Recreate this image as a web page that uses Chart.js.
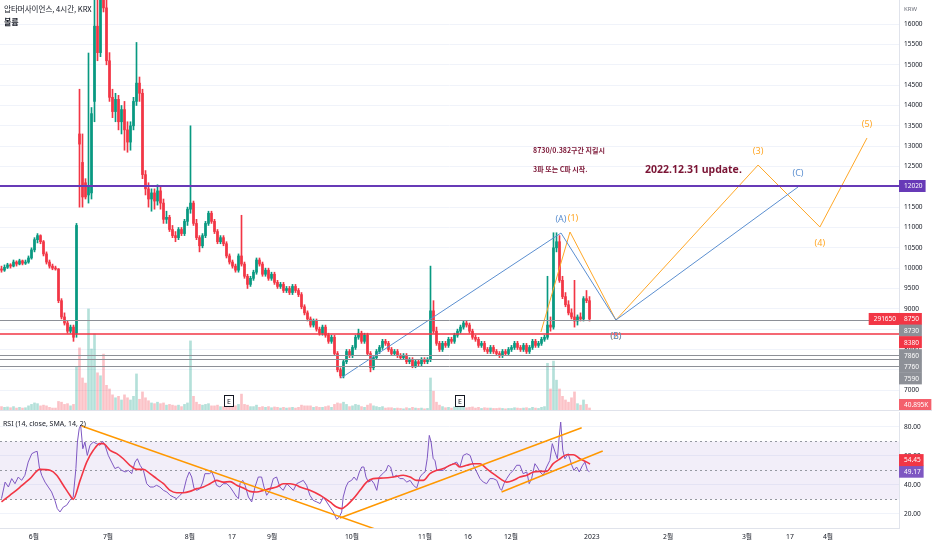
<!DOCTYPE html>
<html>
<head>
<meta charset="utf-8">
<script src="https://cdn.jsdelivr.net/npm/chart.js@4.4.1/dist/chart.umd.min.js"></script>
<style>
  body { margin: 0; background: #fff; width: 932px; height: 550px; overflow: hidden; position: relative; }
  #main { position: absolute; left: 0; top: 0; width: 932px; height: 411px; }
  #rsi { position: absolute; left: 0; top: 411px; width: 932px; height: 139px; }
</style>
</head>
<body>
<div id="main"><canvas id="c1"></canvas></div>
<div id="rsi"><canvas id="c2"></canvas></div>
<script>
// 4시간봉 (bar index 0 = 5월 말)
const open = [9980,9950,10020,10080,10050,10150,10100,10180,10120,10150,
  10250,10450,10700,10800,10650,10350,10150,10050,10000,9980,
  9200,8800,8650,8450,8550,8400,13300,12600,12100,11800,
  11850,14100,15950,15300,17300,16400,15100,14200,13850,14150,
  13600,13900,13400,13100,13500,14100,14550,14300,12300,11950,
  11700,11850,11650,11900,11600,11200,11250,10950,10800,10750,
  10950,10850,11150,11450,11600,11100,10750,10550,10800,11100,
  11350,11150,10900,10650,10750,10600,10300,10150,10050,9950,
  10300,10100,9800,9600,9750,9900,10200,10100,9850,9950,
  9750,9850,9650,9550,9600,9450,9500,9400,9550,9450,
  9350,9050,8900,8750,8600,8700,8500,8400,8550,8350,
  8200,8300,7900,7500,7350,7700,7950,7850,8050,8300,
  8400,8200,8350,7900,7550,7800,7950,8050,8200,8150,
  8000,7900,7950,7850,7800,7850,7700,7750,7600,7700,
  7650,7750,7700,7750,8950,8450,8150,8000,8150,8100,
  8250,8200,8350,8450,8550,8650,8600,8450,8300,8250,
  8100,8150,8000,7950,8050,7950,7900,7850,7950,7900,
  8000,8050,8150,8050,8000,8100,7950,8050,8200,8100,
  8150,8250,8300,8600,8550,10500,10650,9700,9300,9100,
  8900,8800,8700,8800,8750,9250,9200]
const high = [10050,10080,10120,10110,10200,10180,10220,10200,10200,10300,
  10500,10750,10850,10820,10680,10400,10200,10100,10050,9990,
  9250,8900,8700,8600,8600,11100,14400,13300,12200,15290,
  13950,16700,16700,17500,17800,16600,15300,14400,14300,14250,
  14000,14100,13600,13600,14200,15550,14700,14400,12400,12100,
  11950,11950,12050,12000,11700,11400,11300,11050,10900,11000,
  11000,11200,11500,13500,11650,11200,10800,10850,11150,11400,
  11400,11200,10950,10800,10800,10650,10350,10200,10100,10350,
  11300,10150,9850,9800,9950,10250,10250,10150,10000,10000,
  9900,9900,9700,9650,9650,9550,9550,9600,9600,9500,
  9400,9100,8950,8800,8750,8750,8550,8600,8600,8400,
  8350,8350,7950,7550,7750,8000,8000,8100,8350,8500,
  8450,8400,8400,7950,7850,8000,8100,8250,8250,8200,
  8050,8000,8000,7900,7900,7900,7800,7800,7750,7750,
  7800,7800,7800,10050,9200,8550,8200,8200,8200,8300,
  8300,8400,8500,8600,8700,8700,8650,8500,8350,8300,
  8200,8200,8050,8100,8100,8000,7950,8000,8000,8050,
  8100,8200,8200,8100,8150,8150,8100,8250,8250,8200,
  8300,8350,9800,8800,10870,10870,10800,9800,9400,9200,
  9000,9700,8850,8900,9300,9450,9300]
const low = [9900,9920,9990,10000,10030,10050,10080,10080,10090,10120,
  10220,10400,10620,10600,10300,10100,10000,9960,9950,9150,
  8750,8600,8400,8400,8200,8300,11500,11500,11700,11600,
  11700,13600,15100,15200,16300,15000,14100,13700,13600,13400,
  13300,12900,12850,12900,13400,14000,14100,12200,11800,11500,
  11400,11450,11550,11450,11100,11100,10900,10750,10650,10700,
  10800,10800,11050,11350,11050,10700,10400,10500,10750,11050,
  11100,10850,10600,10600,10550,10250,10100,10000,9900,9900,
  10050,9750,9500,9550,9700,9850,10050,9800,9800,9700,
  9700,9600,9500,9500,9400,9400,9350,9350,9400,9300,
  9000,8850,8700,8550,8550,8450,8350,8350,8300,8150,
  8150,7850,7450,7300,7300,7650,7800,7800,8000,8250,
  8150,8150,7850,7450,7500,7750,7900,8000,8100,7950,
  7850,7850,7800,7750,7750,7650,7650,7550,7550,7600,
  7600,7650,7650,7700,8400,8100,7950,7950,8050,8050,
  8150,8150,8300,8400,8500,8550,8400,8250,8200,8050,
  8050,7950,7900,7900,7900,7850,7800,7800,7850,7850,
  7950,8000,8000,7950,7950,7900,7900,8000,8050,8050,
  8100,8200,8250,8450,8500,10400,9650,9250,9050,8850,
  8750,8550,8600,8700,8700,9150,8700]
const close = [9950,10020,10080,10050,10150,10100,10180,10120,10150,10250,
  10450,10700,10800,10650,10350,10150,10050,10000,9980,9200,
  8800,8650,8450,8550,8300,11050,13050,11750,11750,12000,
  13800,15950,15300,17000,16400,15100,14200,13850,14150,13600,
  13900,13400,13100,13500,14100,14550,14300,12300,11950,11700,
  11850,11650,11900,11600,11200,11250,10950,10800,10750,10950,
  10850,11150,11450,11600,11100,10750,10550,10800,11100,11350,
  11150,10900,10650,10750,10600,10300,10150,10050,9950,10300,
  10100,9800,9600,9750,9900,10200,10100,9850,9950,9750,
  9850,9650,9550,9600,9450,9500,9400,9550,9450,9350,
  9050,8900,8750,8600,8700,8500,8400,8550,8350,8200,
  8300,7900,7500,7350,7700,7950,7850,8050,8300,8400,
  8200,8350,7900,7550,7800,7950,8050,8200,8150,8000,
  7900,7950,7850,7800,7850,7700,7750,7600,7700,7650,
  7750,7700,7750,8950,8450,8150,8000,8150,8100,8250,
  8200,8350,8450,8550,8650,8600,8450,8300,8250,8100,
  8150,8000,7950,8050,7950,7900,7850,7950,7900,8000,
  8050,8150,8050,8000,8100,7950,8050,8200,8100,8150,
  8250,8300,8600,8550,10500,10650,9700,9300,9100,8900,
  8800,8700,8800,8750,9250,9200,8750]
// 볼륨 (K)
const volume = [60,50,55,45,60,40,50,40,45,70,
  90,110,100,70,80,70,50,40,40,130,
  120,90,100,70,90,600,860,450,380,1390,
  845,1050,520,480,775,350,300,220,180,200,
  150,220,180,150,200,505,160,260,180,140,
  110,100,120,100,110,80,90,80,70,80,
  60,90,110,955,200,120,90,80,90,100,
  70,70,80,60,60,80,70,60,70,90,
  230,90,80,60,60,80,50,60,50,60,
  45,55,50,40,50,40,45,50,40,50,
  80,70,70,70,50,60,50,50,60,70,
  50,90,110,100,120,90,60,70,90,80,
  60,50,80,100,70,60,50,60,40,45,
  45,35,40,35,30,45,35,50,40,35,
  40,30,35,450,270,120,80,60,45,50,
  40,55,60,55,60,45,50,55,40,50,
  35,45,40,40,35,35,40,35,30,35,
  35,45,40,35,40,45,35,50,40,35,
  50,60,650,300,680,420,300,200,150,120,
  180,260,100,80,150,90,40.895]

const priceTicks = [7000,7500,8000,8500,9000,9500,10000,10500,11000,11500,12000,12500,13000,13500,14000,14500,15000,15500,16000]
const xTickIdx = [10.8,35.5,62.8,76.8,90.2,116.8,141.2,155.5,169.8,196.8,222.2,248.5,262.8,275.5]
const xTickLabels = ['6월','7월','8월','17','9월','10월','11월','16','12월','2023','2월','3월','17','4월']
const eventIdx = [76, 153]

// 수평선
const levelPrices = [12020, 8730, 8380, 7860, 7760, 7590]
const levelColors = ['#673ab7', '#8d9097', '#f23645', '#8d9097', '#8d9097', '#8d9097']
const levelWidths = [2, 1, 1.5, 1, 1, 1]

// 엘리엇 파동
const waveBlueX = [113.2, 186.5, 204.8, 265.5]
const waveBlueY = [7300, 10864, 8725, 11995]
const waveBlueLabels = ['', '(A)', '(B)', '(C)']
const waveBlueSide = [0, -1, 1, -1]
const waveOrangeX = [179.8, 189.5, 204.8, 252.2, 272.8, 288.5]
const waveOrangeY = [8430, 10889, 8725, 12536, 11012, 13200]
const waveOrangeLabels = ['', '(1)', '(2)', '(3)', '(4)', '(5)']
const waveOrangeSide = [0, -1, 1, -1, 1, -1]

const noteText = ['8730/0.382구간 지킬시', '3파 또는 C파 시작.', '2022.12.31 update.']
const noteX = [177.2, 177.2, 214.5]
const noteY = [12905, 12438, 12413]

// RSI
const rsiIdx = [0,1.2,2.3,3.4,4.5,5.6,6.7,7.8,8.9,10.1,11.2,11.9,12.6,13.4,14.5,15.6,16.7,17.8,18.6,19.5,
  20.6,21.7,22.8,23.9,24.8,25.3,25.9,26.4,27.1,27.8,28.6,29.5,30.6,31.7,32.8,33.7,34.5,35.6,36.7,37.8,
  38.9,40.1,41.2,42.3,43.4,44.5,45.3,46.2,47.3,48.4,49.5,50.6,51.7,52.8,54,55.1,56.2,57.3,58.4,59.5,
  60.6,61.7,62.6,63.4,64.2,65.1,66.2,67.1,67.8,69.3,70.1,70.8,71.7,72.8,73.9,75.1,76.2,77.3,78.4,79,
  79.5,80.4,81.2,82.3,83.4,84.5,85.6,86.7,87.5,88.4,89.5,90.6,91.7,92.8,93.9,95.1,96.2,97.3,98.4,
  99.5,100.6,101.7,102.8,103.9,105.1,106.2,107.3,108.4,109.5,110.6,111.7,112.6,113.4,113.9,114.8,115.6,116.7,117.5,118.4,
  119.3,120.1,120.8,121.5,122.3,123.4,124.2,125.1,125.9,127.1,128.2,128.9,129.7,130.6,131.7,132.8,133.9,135.1,136.2,137.3,
  138.4,139.5,140.4,141.2,141.9,142.6,143.2,143.9,144.5,145.1,146.2,147.3,148.4,149.5,150.6,151.7,152.8,153.9,155.1,156.2,
  157.3,158.4,159.5,160.6,161.7,162.8,163.9,165.1,166.2,166.7,167.5,168.4,169.5,170.6,171.7,172.8,173.9,175.1,175.9,176.7,
  177.8,178.6,179.5,180.6,181.7,182.8,183.6,184.5,185.3,185.9,186.4,187.1,187.8,188.9,190.1,190.8,191.7,192.6,193.7,194.5,
  195.3,196]
const rsiVal = [30.6,42,38.6,44.4,40.9,45.5,43.2,46.7,55.8,61.6,62.8,63.2,52.4,46.7,42,38.6,35.2,29.4,23.7,21.4,
  24.8,26,29.4,31.7,51.3,69.6,78.8,81.1,65,69.6,60.4,67.4,69.6,68.5,67.4,70.1,67.4,60.4,55.8,51.3,
  52.4,50.1,49,50.1,47.8,55.8,58.1,53.6,50.1,40.9,38.6,38.6,39.8,38.6,36.3,35.2,32.9,31.7,30.6,32.9,
  35.2,44.4,49,45.5,37.5,36.3,37.5,42,47.8,47.8,49,45.5,39.8,38.6,40.9,40.9,38.6,35.2,31.7,30.6,
  40.9,43.2,39.8,31.7,28.3,38.6,45.5,45.5,38.6,32.9,36.3,44.4,45.5,38.6,36.3,40.9,38.6,36.3,40.9,
  42,43.2,39.8,32.9,29.4,28.3,27.2,31.7,28.3,24.8,21.4,16.3,17.9,21.4,31.7,38.6,42,43.2,45.5,43.2,
  49,52.4,52.4,45.5,42,43.2,40.9,36.3,45.5,47.8,50.1,53.6,52.4,45.5,46.7,44.4,44.4,42,43.2,39.8,
  37.9,45.5,47.8,49,58.1,74.2,69.6,58.1,57,50.1,50.1,50.1,52.4,53.6,54.7,55.8,52.4,60.4,61.6,60.4,
  53.6,49,44.4,42,40.9,44.4,44.4,43.2,37.5,36.3,40.9,44.4,47.8,50.1,53.6,53.6,47.8,49,40.9,44.4,
  54.7,52.4,49,46.7,52.4,57,68.5,62.8,58.1,73.1,83.4,63.9,58.1,61.6,53.6,50.1,52.4,49,53.6,55.8,
  50.1,49.17]
const smaIdx = [0,2.8,6.2,9.5,12.8,16.2,18.4,20.6,22.8,23.9,26.2,28.4,30.6,32.8,33.9,36.2,38.4,40.6,42.8,45.1,
  47.3,49.5,51.7,54,56.2,58.4,60.6,62.8,65.1,67.3,69.5,71.7,73.9,76.2,78.4,80.6,82.8,85.1,87.3,89.5,
  91.7,93.9,96.2,98.4,
  99.5,102.8,106.2,109.5,111.7,113.4,115.1,117.3,119.5,121.7,123.9,127.3,130.6,133.9,136.2,138.4,140.6,142.8,145.1,147.3,
  149.5,151.2,152.8,155.1,157.3,159.5,161.7,163.9,166.2,168.4,170.6,172.8,175.1,177.3,179.5,181.7,183.9,186.2,188.4,190.6,
  192.8,195.1,196.2]
const smaVal = [28.3,32.9,38.6,44.4,50.8,50.1,46.7,39.8,32.9,30.1,43.2,55.8,63.9,68.5,68.5,63.9,61.6,58.1,53.6,50.8,
  50.8,47.8,44.4,40.9,36.3,34.7,34.7,35.6,37.5,38.6,40.9,43.2,42,42.3,39.8,37.9,35.6,35.2,36.3,37.5,
  38.6,40.9,40.9,39.8,
  38.6,36.3,32.9,28.3,24.8,23.7,26,30.6,36.3,42,44.4,44.8,45.5,46.7,45.5,43.2,43.2,47.8,50.1,51.3,
  53.6,54.7,52.4,53.6,54.7,54.7,51.3,47.8,44.4,42,43.2,45.5,46.7,49,49.4,49.4,54.7,58.1,60.9,60.9,
  58.1,55.8,54.45]
const rsiTrends = [[26.7, 80.7, 125, 9.3], [112.8, 17.2, 193.4, 79.5], [166.7, 35.2, 200.4, 63.4]]
const rsiTicks = [20, 40, 60, 80]

const UP = '#089981', DOWN = '#f23645'
const BLUE = '#5b8fd0', ORANGE = '#ffa726'
const TXT = '#131722'
const X_MIN = -0.5, X_MAX = 299.17
Chart.defaults.font.family = "'Noto Sans', 'Noto Sans CJK KR', sans-serif"

const bars = close.map((c, i) => i)
const isUp = bars.map(i => close[i] >= open[i])

function drawTag(ctx, left, cy, text, bg, fg, alignRight) {
    ctx.font = "6.5px 'Noto Sans', sans-serif"
    const w = ctx.measureText(text).width + 8
    const x0 = alignRight ? left - w : left
    ctx.fillStyle = bg
    ctx.fillRect(x0, cy - 6, w, 12)
    ctx.fillStyle = fg
    ctx.textAlign = 'left'
    ctx.textBaseline = 'middle'
    ctx.fillText(text, x0 + 5, cy + 0.5)
}

// 라벨이 겹치지 않게 위치 조정
function spreadTags(ys, gap, dir) {
    const order = ys.map((y, k) => k).sort((a, b) => dir * (ys[a] - ys[b]))
    const out = ys.slice()
    for (let n = 1; n < order.length; n++) {
        const prev = out[order[n - 1]], k = order[n]
        if (dir > 0 && out[k] < prev + gap) out[k] = prev + gap
        if (dir < 0 && out[k] > prev - gap) out[k] = prev - gap
    }
    return out
}

const mainOverlay = {
    id: 'mainOverlay',
    afterDatasetsDraw(chart) {
        const { ctx, chartArea: a, scales: { y } } = chart
        ctx.save()
        levelPrices.forEach((p, k) => {
            let py = Math.round(y.getPixelForValue(p))
            if (levelWidths[k] === 1) py += 0.5
            ctx.strokeStyle = levelColors[k]
            ctx.lineWidth = levelWidths[k]
            ctx.beginPath()
            ctx.moveTo(a.left, py)
            ctx.lineTo(a.right, py)
            ctx.stroke()
        })
        ctx.restore()
    },
    afterDraw(chart) {
        const { ctx, chartArea: a, scales: { x, y, v } } = chart
        ctx.save()
        // 파동 라벨
        ctx.font = "9px 'Noto Sans', sans-serif"
        ctx.textAlign = 'center'
        ctx.textBaseline = 'middle'
        const waveText = (xs, ys, labels, side, color) => {
            labels.forEach((t, k) => {
                if (!t) return
                ctx.fillStyle = color
                const px = x.getPixelForValue(xs[k]) + (t === '(1)' ? 3 : 0)
                const py = y.getPixelForValue(ys[k]) + (side[k] < 0 ? -14 : 16)
                ctx.fillText(t, px, py)
            })
        }
        waveText(waveOrangeX, waveOrangeY, waveOrangeLabels, waveOrangeSide, ORANGE)
        waveText(waveBlueX, waveBlueY, waveBlueLabels, waveBlueSide, BLUE)

        // 메모
        ctx.textAlign = 'left'
        ctx.fillStyle = '#7b1535'
        noteText.forEach((t, k) => {
            ctx.font = k < 2 ? "bold 7px 'Noto Sans CJK KR', sans-serif" : "bold 10.5px 'Noto Sans', sans-serif"
            ctx.fillText(t, x.getPixelForValue(noteX[k]), y.getPixelForValue(noteY[k]))
        })

        // 실적 표시
        eventIdx.forEach(i => {
            const px = Math.round(x.getPixelForValue(i))
            ctx.fillStyle = '#fff'
            ctx.strokeStyle = TXT
            ctx.lineWidth = 1
            ctx.fillRect(px - 4.5, a.bottom - 15.5, 9, 11)
            ctx.strokeRect(px - 4.5, a.bottom - 15.5, 9, 11)
            ctx.fillStyle = TXT
            ctx.font = "7px 'Noto Sans', sans-serif"
            ctx.textAlign = 'center'
            ctx.fillText('E', px, a.bottom - 9.5)
        })

        // 제목
        ctx.textAlign = 'left'
        ctx.fillStyle = TXT
        ctx.font = "7.5px 'Noto Sans CJK KR', sans-serif"
        ctx.fillText('압타머사이언스, 4시간, KRX', 4, 9)
        ctx.font = "bold 8px 'Noto Sans CJK KR', sans-serif"
        ctx.fillText('볼륨', 4, 22)
        ctx.fillStyle = '#6a6d78'
        ctx.font = "6px 'Noto Sans', sans-serif"
        ctx.fillText('KRW', a.right + 5, 9)

        // 오른쪽 가격 라벨
        const tagVals = [12020, 8750, 8730, 8380, 7860, 7760, 7590]
        const tagCols = ['#673ab7', '#f23645', '#8d9097', '#f23645', '#8d9097', '#8d9097', '#8d9097']
        const ys = spreadTags(tagVals.map(p => y.getPixelForValue(p)), 11.6, 1)
        tagVals.forEach((p, k) => drawTag(ctx, a.right, ys[k], String(p), tagCols[k], '#fff'))
        drawTag(ctx, a.right, ys[1], '291650', '#f23645', '#fff', true)
        const lastVol = volume[volume.length - 1]
        const vy = Math.min(v.getPixelForValue(lastVol), a.bottom - 6)
        drawTag(ctx, a.right, vy, lastVol.toFixed(3) + 'K', '#f4606c', '#fff')

        // 패널 구분선
        ctx.strokeStyle = '#e0e3eb'
        ctx.beginPath()
        ctx.moveTo(0, a.bottom - 0.5)
        ctx.lineTo(chart.width, a.bottom - 0.5)
        ctx.stroke()
        ctx.restore()
    }
}

new Chart(document.getElementById('c1'), {
    type: 'bar',
    data: {
        datasets: [
            {
                type: 'line', data: waveBlueX.map((wx, k) => ({ x: wx, y: waveBlueY[k] })),
                borderColor: BLUE, borderWidth: 1, pointRadius: 0, order: 0
            },
            {
                type: 'line', data: waveOrangeX.map((wx, k) => ({ x: wx, y: waveOrangeY[k] })),
                borderColor: ORANGE, borderWidth: 1, pointRadius: 0, order: 0
            },
            {
                data: bars.map(i => ({ x: i, y: [open[i], close[i]] })),
                backgroundColor: bars.map(i => isUp[i] ? UP : DOWN),
                barThickness: 2, minBarLength: 1, grouped: false, order: 1
            },
            {
                data: bars.map(i => ({ x: i, y: [low[i], high[i]] })),
                backgroundColor: bars.map(i => isUp[i] ? UP : DOWN),
                barThickness: 1, grouped: false, order: 2
            },
            {
                yAxisID: 'v',
                data: bars.map(i => ({ x: i, y: volume[i] })),
                backgroundColor: bars.map(i => isUp[i] ? 'rgba(8,153,129,0.3)' : 'rgba(242,54,69,0.3)'),
                barThickness: 2, grouped: false, order: 3
            }
        ]
    },
    options: {
        responsive: true,
        maintainAspectRatio: false,
        animation: false,
        layout: { padding: 0 },
        plugins: { legend: { display: false }, tooltip: { enabled: false } },
        scales: {
            x: { type: 'linear', min: X_MIN, max: X_MAX, offset: false, display: false },
            y: {
                position: 'right', min: 6487, max: 16594,
                afterBuildTicks: s => { s.ticks = priceTicks.map(p => ({ value: p })) },
                ticks: { color: TXT, font: { size: 6.5 }, padding: 5, callback: p => String(p) },
                grid: { color: '#f0f3fa', drawTicks: false },
                border: { color: '#e0e3eb' },
                afterFit: s => { s.width = 33; s.paddingTop = 0; s.paddingBottom = 0 }
            },
            v: { display: false, min: 0, max: 5600 }
        }
    },
    plugins: [mainOverlay]
})

const rsiOverlay = {
    id: 'rsiOverlay',
    beforeDatasetsDraw(chart) {
        const { ctx, chartArea: a, scales: { y } } = chart
        ctx.save()
        ctx.fillStyle = 'rgba(126,87,194,0.1)'
        ctx.fillRect(a.left, y.getPixelForValue(70), a.width, y.getPixelForValue(30) - y.getPixelForValue(70))
        ctx.strokeStyle = '#9598a1'
        ctx.lineWidth = 1
        ctx.setLineDash([2, 3])
        ;[70, 50, 30].forEach(lv => {
            const py = Math.round(y.getPixelForValue(lv)) + 0.5
            ctx.beginPath()
            ctx.moveTo(a.left, py)
            ctx.lineTo(a.right, py)
            ctx.stroke()
        })
        ctx.restore()
    },
    afterDraw(chart) {
        const { ctx, chartArea: a, scales: { y } } = chart
        ctx.save()
        ctx.fillStyle = TXT
        ctx.font = "7px 'Noto Sans', sans-serif"
        ctx.textAlign = 'left'
        ctx.textBaseline = 'middle'
        ctx.fillText('RSI (14, close, SMA, 14, 2)', 3, 13)
        const vals = [rsiVal[rsiVal.length - 1], smaVal[smaVal.length - 1]]
        const cols = ['#7e57c2', '#f23645']
        const ys = spreadTags(vals.map(r => y.getPixelForValue(r)), 11.6, -1)
        vals.forEach((r, k) => drawTag(ctx, a.right, ys[k], r.toFixed(2), cols[k], '#fff'))
        ctx.restore()
    }
}

new Chart(document.getElementById('c2'), {
    type: 'line',
    data: {
        datasets: [
            {
                data: rsiIdx.map((rx, k) => ({ x: rx, y: rsiVal[k] })),
                borderColor: '#7e57c2', borderWidth: 1, pointRadius: 0, order: 2
            },
            {
                data: smaIdx.map((sx, k) => ({ x: sx, y: smaVal[k] })),
                borderColor: '#f23645', borderWidth: 1.6, pointRadius: 0, cubicInterpolationMode: 'monotone', order: 1
            },
            ...rsiTrends.map(t => ({
                data: [{ x: t[0], y: t[1] }, { x: t[2], y: t[3] }],
                borderColor: '#ff9800', borderWidth: 1.5, pointRadius: 0, order: 0
            }))
        ]
    },
    options: {
        responsive: true,
        maintainAspectRatio: false,
        animation: false,
        layout: { padding: { top: 1 } },
        plugins: { legend: { display: false }, tooltip: { enabled: false } },
        scales: {
            x: {
                type: 'linear', min: X_MIN, max: X_MAX, offset: false,
                afterBuildTicks: s => { s.ticks = xTickIdx.map(t => ({ value: t })) },
                ticks: {
                    autoSkip: false, maxRotation: 0, color: TXT, font: { size: 6.8 }, padding: 5,
                    callback: (t, k) => xTickLabels[k]
                },
                grid: { display: false, drawTicks: false },
                border: { color: '#e0e3eb' },
                afterFit: s => { s.height = 22; s.paddingLeft = 0; s.paddingRight = 0 }
            },
            y: {
                position: 'right', min: 10.34, max: 90.34,
                afterBuildTicks: s => { s.ticks = rsiTicks.map(t => ({ value: t })) },
                ticks: { color: TXT, font: { size: 6.5 }, padding: 5, callback: t => t.toFixed(2) },
                grid: { color: '#f0f3fa', drawTicks: false },
                border: { color: '#e0e3eb' },
                afterFit: s => { s.width = 33; s.paddingTop = 0; s.paddingBottom = 0 }
            }
        }
    },
    plugins: [rsiOverlay]
})
</script>
</body>
</html>
